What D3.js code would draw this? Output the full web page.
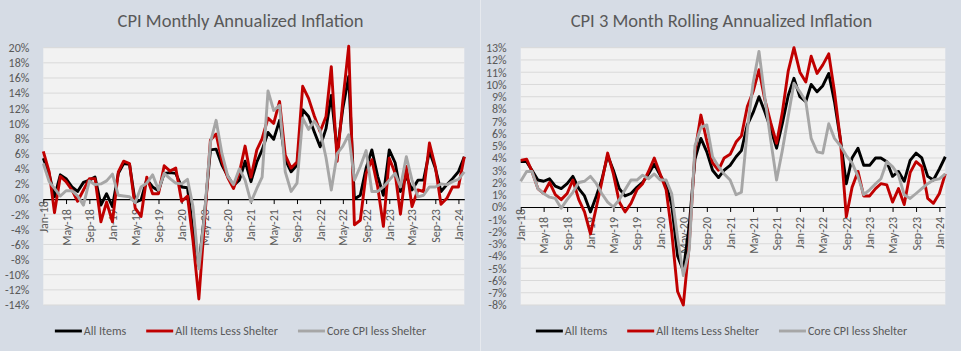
<!DOCTYPE html>
<html>
<head>
<meta charset="utf-8">
<script src="https://cdn.jsdelivr.net/npm/d3@7"></script>
<style>
  body { margin: 0; background: #D6DCE5; }
  text { font-family: Carlito, Lato, "Open Sans", sans-serif; }
</style>
</head>
<body>
<svg id="chart" width="961" height="351"></svg>
<script>
// months Jan-18 .. Feb-24
const firstMonth = new Date(2018, 0, 1);
const lastMonth = new Date(2024, 1, 1);
const months = d3.timeMonth.range(firstMonth, d3.timeMonth.offset(lastMonth, 1));

const seriesNames = ["All Items", "All Items Less Shelter", "Core CPI less Shelter"];
const seriesColors = ["#000000", "#C00000", "#A6A6A6"];

// monthly annualized (%)
const monthlyAll = [5.4, 3.3, 0.3, 3.2, 2.7, 1.6, 1.0, 2.2, 2.5, 2.9, -0.8, 0.7,
  -1.0, 3.4, 4.7, 4.6, -0.4, -0.1, 2.6, 1.6, 1.1, 3.4, 3.5, 3.4,
  1.6, 1.5, -4.2, -8.8, -2.0, 6.5, 6.6, 4.5, 3.0, 1.8, 2.5, 5.0,
  2.3, 4.9, 6.5, 8.8, 7.9, 10.4, 5.2, 3.6, 4.5, 11.8, 10.9, 8.9,
  6.9, 9.3, 13.7, 6.3, 12.0, 16.2, 0.0, 0.5, 4.1, 6.5, 3.0, 0.5,
  6.5, 4.8, 1.0, 3.0, 1.2, 2.5, 2.5, 6.3, 4.1, 1.0, 1.9, 2.7,
  3.6, 5.6];
const monthlyLessShelter = [6.3, 3.6, -1.8, 3.0, 2.3, 1.2, -0.3, 1.2, 2.7, 2.7, -3.0, -0.4,
  -3.0, 3.6, 5.0, 4.7, -1.2, -2.3, 2.9, 0.7, 0.7, 4.4, 3.7, 4.1,
  -0.3, 0.4, -5.5, -13.2, -3.0, 7.8, 8.6, 5.0, 2.8, 1.4, 3.5, 7.0,
  2.9, 6.5, 8.0, 10.7, 10.0, 12.9, 5.8, 4.1, 4.9, 14.9, 13.3, 11.0,
  8.9, 10.9, 17.5, 5.0, 13.0, 20.2, -3.4, -2.8, 3.4, 5.2, 1.6, -3.6,
  5.4, 3.4, -2.0, 4.3, -1.0, 1.2, 1.0, 7.4, 4.3, -0.7, 0.1, 1.6,
  1.6, 5.6];
const monthlyCoreLessShelter = [4.7, 2.3, 1.4, 0.4, 1.1, 1.1, 0.4, -0.8, 2.4, 1.9, 2.0, 2.4,
  3.3, 0.5, 0.4, 0.3, -0.5, 1.6, 2.1, 3.2, 1.2, 3.4, 2.7, 2.1,
  2.0, 2.6, -1.0, -9.2, -2.0, 7.5, 10.4, 6.0, 3.0, 1.9, 4.0, 2.5,
  -0.4, 1.4, 2.9, 14.3, 11.7, 12.4, 3.6, 1.0, 2.1, 10.7, 9.2, 10.3,
  9.1, 5.5, 1.2, 6.0, 7.0, 8.5, 2.5, 4.3, 6.4, 1.0, 1.0, 1.6,
  2.5, 3.4, 1.6, 5.6, 2.5, 0.3, 0.5, 1.6, 1.6, 2.0, 1.9, 2.3,
  2.6, 3.6];

// 3 month rolling annualized (%)
const rollingAll = [3.7, 3.7, 3.0, 2.2, 2.1, 2.3, 1.7, 1.5, 1.9, 2.5, 1.5, 0.9,
  -0.4, 0.9, 2.2, 4.2, 3.0, 1.5, 0.9, 1.1, 1.6, 2.0, 2.7, 3.5,
  2.6, 1.8, 0.2, -4.0, -5.2, -1.5, 3.9, 5.6, 4.5, 3.0, 2.4, 3.0,
  3.4, 4.1, 4.6, 6.7, 7.7, 9.0, 7.8, 6.4, 4.8, 6.8, 9.1, 10.5,
  9.0, 8.6, 10.0, 9.4, 9.9, 10.9, 8.6, 5.5, 1.9, 4.0, 4.8, 3.4,
  3.4, 4.0, 4.0, 3.7, 2.5, 2.9, 2.1, 3.8, 4.4, 4.0, 2.5, 2.2,
  3.1, 4.1];
const rollingLessShelter = [3.8, 3.9, 2.9, 1.5, 1.1, 2.0, 1.0, 0.6, 1.1, 2.2, 0.6, -0.4,
  -2.2, 0.0, 2.0, 4.4, 2.7, 0.4, -0.4, 0.3, 1.4, 1.9, 2.9, 4.0,
  2.7, 1.4, -2.0, -6.9, -8.0, -3.0, 4.5, 7.5, 5.4, 3.6, 3.0, 4.0,
  4.3, 5.3, 5.8, 8.2, 9.4, 11.2, 8.8, 6.9, 5.2, 7.7, 11.1, 13.0,
  11.0, 10.2, 12.3, 10.9, 11.6, 12.5, 9.4, 5.5, -0.8, 1.6, 2.9, 0.9,
  0.9, 1.5, 1.9, 1.8, 0.4, 1.5, 0.2, 2.8, 3.7, 3.3, 0.7, 0.3,
  1.1, 2.7];
const rollingCoreLessShelter = [2.1, 2.9, 2.9, 1.5, 1.1, 0.8, 0.7, -0.1, 0.6, 1.2, 2.0, 2.1,
  2.5, 1.9, 1.1, 0.4, 0.0, 0.6, 1.4, 2.2, 2.2, 2.6, 2.3, 2.7,
  2.2, 2.2, 1.1, -2.5, -5.6, -3.5, 5.0, 6.5, 6.7, 4.1, 3.3, 2.7,
  2.2, 1.0, 1.2, 6.3, 10.1, 12.7, 9.0, 5.5, 2.2, 4.6, 7.4, 10.1,
  9.4, 8.6, 5.6, 4.5, 4.4, 6.8, 5.6, 5.0, 4.2, 3.6, 2.5, 1.0,
  1.4, 1.9, 2.3, 3.7, 3.3, 2.6, 1.0, 0.7, 1.1, 1.5, 1.9, 2.2,
  2.3, 2.7];

const monthlyTicks = d3.range(-14, 21, 2);
const rollingTicks = d3.range(-8, 14, 1);

const svg = d3.select("#chart");
const fmt = d3.timeFormat("%b-%y");

function drawPanel(chartLeft, plotLeft, plotRight, title, series, ticks) {
  const g = svg.append("g");
  const plot = { left: plotLeft, right: plotRight, top: 47.7, bottom: 305 };
  const mid = chartLeft + 240.5;

  const x = d3.scaleTime().domain([firstMonth, lastMonth]).range([plot.left, plot.right]);
  const y = d3.scaleLinear().domain([d3.min(ticks), d3.max(ticks)]).range([plot.bottom, plot.top]);

  g.append("rect").attr("x", plot.left).attr("y", plot.top)
    .attr("width", plot.right - plot.left).attr("height", plot.bottom - plot.top)
    .attr("fill", "#F2F2F2");

  g.append("g").selectAll("line").data(ticks.filter(t => t !== 0)).join("line")
    .attr("x1", plot.left).attr("x2", plot.right)
    .attr("y1", d => y(d)).attr("y2", d => y(d))
    .attr("stroke", "#D9D9D9").attr("stroke-width", 1);

  // y axis labels
  const yAxis = g.append("g").attr("transform", `translate(${plot.left - 11},0)`)
    .call(d3.axisLeft(y).tickValues(ticks).tickSize(0).tickFormat(d => d + "%"));
  yAxis.select(".domain").remove();
  yAxis.selectAll("text").attr("fill", "#595959").style("font-size", "12px")
    .style("font-family", "Carlito, Lato, sans-serif");

  // x axis on zero line
  const tickMonths = months.filter((d, i) => i % 4 === 0);
  const xAxis = g.append("g").attr("transform", `translate(0,${y(0)})`)
    .call(d3.axisBottom(x).tickValues(tickMonths).tickSize(5).tickSizeOuter(0).tickFormat(fmt));
  xAxis.select(".domain").attr("stroke", "#000").attr("stroke-width", 1.2);
  xAxis.selectAll(".tick line").attr("stroke", "#000");
  xAxis.selectAll("text")
    .attr("transform", "rotate(-90)")
    .attr("x", (d, i) => i === 0 ? -2 : -10)
    .attr("y", 0).attr("dy", "0.33em")
    .attr("text-anchor", "end")
    .attr("fill", "#595959").style("font-size", "12px")
    .style("font-family", "Carlito, Lato, sans-serif");

  const line = d3.line().x((d, i) => x(months[i])).y(d => y(d));
  series.forEach((s, k) => {
    g.append("path").datum(s).attr("d", line)
      .attr("fill", "none").attr("stroke", seriesColors[k])
      .attr("stroke-width", 2.9).attr("stroke-linejoin", "round");
  });

  g.append("text").attr("x", mid).attr("y", 27).attr("text-anchor", "middle")
    .attr("fill", "#595959").style("font-size", "18.5px").text(title);

  // legend
  const lg = g.append("g");
  let cx = 0;
  seriesNames.forEach((name, k) => {
    const item = lg.append("g").attr("transform", `translate(${cx},0)`);
    item.append("line").attr("x1", 0).attr("x2", 27).attr("y1", 0).attr("y2", 0)
      .attr("stroke", seriesColors[k]).attr("stroke-width", 2.9);
    const t = item.append("text").attr("x", 29).attr("y", 0).attr("dy", "0.35em")
      .attr("fill", "#595959").style("font-size", "12px").text(name);
    cx += 29 + t.node().getComputedTextLength() + 20;
  });
  const lw = cx - 20;
  lg.attr("transform", `translate(${mid - lw / 2},331)`);
}

drawPanel(0, 43.3, 464.3, "CPI Monthly Annualized Inflation",
  [monthlyAll, monthlyLessShelter, monthlyCoreLessShelter], monthlyTicks);
drawPanel(481, 520.7, 945.3, "CPI 3 Month Rolling Annualized Inflation",
  [rollingAll, rollingLessShelter, rollingCoreLessShelter], rollingTicks);

svg.append("line").attr("x1", 480.5).attr("x2", 480.5).attr("y1", 0).attr("y2", 351)
  .attr("stroke", "#E6E9EE").attr("stroke-width", 1);
</script>
</body>
</html>
